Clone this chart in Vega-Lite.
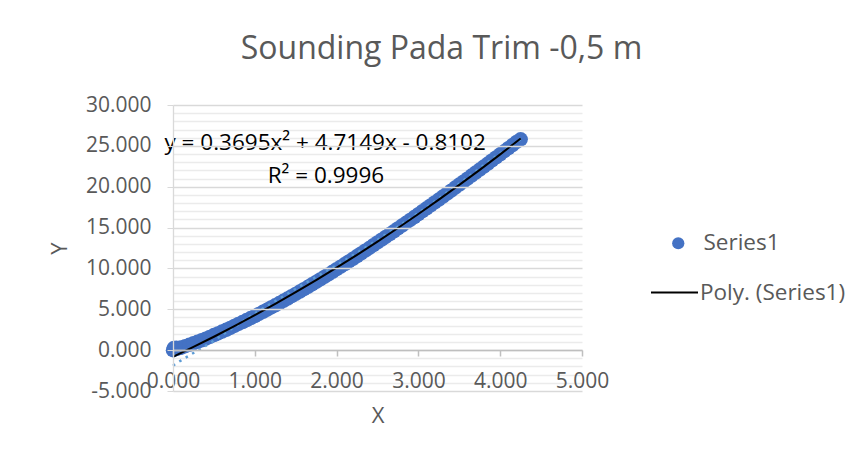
{
  "$schema": "https://vega.github.io/schema/vega-lite/v6.json",
  "width": 409,
  "height": 286,
  "autosize": "none",
  "padding": {"left": 173, "top": 105, "right": 278, "bottom": 66},
  "background": "white",
  "config": {
    "view": {"stroke": null},
    "font": "Open Sans",
    "locale": {"number": {"decimal": ".", "thousands": ",", "grouping": [3], "currency": ["$", ""], "minus": "-"}},
    "axis": {"labelFont": "Open Sans", "titleFont": "Open Sans", "labelColor": "#595959", "titleColor": "#595959", "labelFontSize": 21, "titleFontSize": 22, "titleFontWeight": "normal"}
  },
  "title": {
    "text": "Sounding Pada Trim -0,5 m",
    "font": "Open Sans",
    "fontSize": 32,
    "fontWeight": "normal",
    "color": "#595959",
    "anchor": "middle",
    "frame": "group",
    "dx": 64,
    "offset": 28
  },
  "data": {
    "values": [
      {"series": "Series1", "x": 0.0, "y": 0.0},
      {"series": "Series1", "x": 0.01, "y": 0.25},
      {"series": "Series1", "x": 0.02, "y": 0.08},
      {"series": "Series1", "x": 0.04, "y": 0.3},
      {"series": "Series1", "x": 0.05, "y": 0.18},
      {"series": "Series1", "x": 0.08, "y": 0.26},
      {"series": "Series1", "x": 0.1, "y": 0.32},
      {"series": "Series1", "x": 0.15, "y": 0.48},
      {"series": "Series1", "x": 0.2, "y": 0.65},
      {"series": "Series1", "x": 0.25, "y": 0.83},
      {"series": "Series1", "x": 0.3, "y": 1.02},
      {"series": "Series1", "x": 0.35, "y": 1.21},
      {"series": "Series1", "x": 0.4, "y": 1.41},
      {"series": "Series1", "x": 0.45, "y": 1.62},
      {"series": "Series1", "x": 0.5, "y": 1.84},
      {"series": "Series1", "x": 0.55, "y": 2.05},
      {"series": "Series1", "x": 0.6, "y": 2.27},
      {"series": "Series1", "x": 0.65, "y": 2.49},
      {"series": "Series1", "x": 0.7, "y": 2.72},
      {"series": "Series1", "x": 0.75, "y": 2.96},
      {"series": "Series1", "x": 0.8, "y": 3.2},
      {"series": "Series1", "x": 0.85, "y": 3.44},
      {"series": "Series1", "x": 0.9, "y": 3.68},
      {"series": "Series1", "x": 0.95, "y": 3.92},
      {"series": "Series1", "x": 1.0, "y": 4.17},
      {"series": "Series1", "x": 1.05, "y": 4.43},
      {"series": "Series1", "x": 1.1, "y": 4.69},
      {"series": "Series1", "x": 1.15, "y": 4.95},
      {"series": "Series1", "x": 1.2, "y": 5.22},
      {"series": "Series1", "x": 1.25, "y": 5.49},
      {"series": "Series1", "x": 1.3, "y": 5.76},
      {"series": "Series1", "x": 1.35, "y": 6.03},
      {"series": "Series1", "x": 1.4, "y": 6.31},
      {"series": "Series1", "x": 1.45, "y": 6.6},
      {"series": "Series1", "x": 1.5, "y": 6.88},
      {"series": "Series1", "x": 1.55, "y": 7.17},
      {"series": "Series1", "x": 1.6, "y": 7.46},
      {"series": "Series1", "x": 1.65, "y": 7.75},
      {"series": "Series1", "x": 1.7, "y": 8.05},
      {"series": "Series1", "x": 1.75, "y": 8.35},
      {"series": "Series1", "x": 1.8, "y": 8.65},
      {"series": "Series1", "x": 1.85, "y": 8.96},
      {"series": "Series1", "x": 1.9, "y": 9.27},
      {"series": "Series1", "x": 1.95, "y": 9.58},
      {"series": "Series1", "x": 2.0, "y": 9.9},
      {"series": "Series1", "x": 2.05, "y": 10.21},
      {"series": "Series1", "x": 2.1, "y": 10.53},
      {"series": "Series1", "x": 2.15, "y": 10.86},
      {"series": "Series1", "x": 2.2, "y": 11.18},
      {"series": "Series1", "x": 2.25, "y": 11.51},
      {"series": "Series1", "x": 2.3, "y": 11.84},
      {"series": "Series1", "x": 2.35, "y": 12.17},
      {"series": "Series1", "x": 2.4, "y": 12.5},
      {"series": "Series1", "x": 2.45, "y": 12.84},
      {"series": "Series1", "x": 2.5, "y": 13.18},
      {"series": "Series1", "x": 2.55, "y": 13.52},
      {"series": "Series1", "x": 2.6, "y": 13.86},
      {"series": "Series1", "x": 2.65, "y": 14.2},
      {"series": "Series1", "x": 2.7, "y": 14.54},
      {"series": "Series1", "x": 2.75, "y": 14.89},
      {"series": "Series1", "x": 2.8, "y": 15.24},
      {"series": "Series1", "x": 2.85, "y": 15.59},
      {"series": "Series1", "x": 2.9, "y": 15.94},
      {"series": "Series1", "x": 2.95, "y": 16.29},
      {"series": "Series1", "x": 3.0, "y": 16.64},
      {"series": "Series1", "x": 3.05, "y": 17.0},
      {"series": "Series1", "x": 3.1, "y": 17.36},
      {"series": "Series1", "x": 3.15, "y": 17.71},
      {"series": "Series1", "x": 3.2, "y": 18.07},
      {"series": "Series1", "x": 3.25, "y": 18.43},
      {"series": "Series1", "x": 3.3, "y": 18.79},
      {"series": "Series1", "x": 3.35, "y": 19.15},
      {"series": "Series1", "x": 3.4, "y": 19.52},
      {"series": "Series1", "x": 3.45, "y": 19.89},
      {"series": "Series1", "x": 3.5, "y": 20.26},
      {"series": "Series1", "x": 3.55, "y": 20.62},
      {"series": "Series1", "x": 3.6, "y": 20.99},
      {"series": "Series1", "x": 3.65, "y": 21.36},
      {"series": "Series1", "x": 3.7, "y": 21.73},
      {"series": "Series1", "x": 3.75, "y": 22.1},
      {"series": "Series1", "x": 3.8, "y": 22.47},
      {"series": "Series1", "x": 3.85, "y": 22.84},
      {"series": "Series1", "x": 3.9, "y": 23.22},
      {"series": "Series1", "x": 3.95, "y": 23.59},
      {"series": "Series1", "x": 4.0, "y": 23.97},
      {"series": "Series1", "x": 4.05, "y": 24.34},
      {"series": "Series1", "x": 4.1, "y": 24.72},
      {"series": "Series1", "x": 4.15, "y": 25.1},
      {"series": "Series1", "x": 4.2, "y": 25.48},
      {"series": "Series1", "x": 4.25, "y": 25.8},
      {"series": "dots", "x": 0.0, "y": -1.9},
      {"series": "dots", "x": 0.1, "y": -1.25},
      {"series": "dots", "x": 0.25, "y": -0.35},
      {"series": "dots", "x": 0.45, "y": 0.85},
      {"series": "dots", "x": 0.7, "y": 2.5},
      {"series": "dots", "x": 1.0, "y": 4.5},
      {"series": "dots", "x": 1.3, "y": 6.3},
      {"series": "dots", "x": 1.6, "y": 8.1},
      {"series": "dots", "x": 2.0, "y": 10.4},
      {"series": "dots", "x": 2.5, "y": 13.5},
      {"series": "dots", "x": 3.0, "y": 16.8},
      {"series": "dots", "x": 3.5, "y": 20.4},
      {"series": "dots", "x": 4.0, "y": 24.1},
      {"series": "dots", "x": 4.25, "y": 25.8},
      {"series": "Poly. (Series1)", "x": 0.0, "y": -0.8102},
      {"series": "Poly. (Series1)", "x": 0.25, "y": 0.3916},
      {"series": "Poly. (Series1)", "x": 0.5, "y": 1.6396},
      {"series": "Poly. (Series1)", "x": 0.75, "y": 2.9338},
      {"series": "Poly. (Series1)", "x": 1.0, "y": 4.2742},
      {"series": "Poly. (Series1)", "x": 1.25, "y": 5.6608},
      {"series": "Poly. (Series1)", "x": 1.5, "y": 7.0935},
      {"series": "Poly. (Series1)", "x": 1.75, "y": 8.5725},
      {"series": "Poly. (Series1)", "x": 2.0, "y": 10.0976},
      {"series": "Poly. (Series1)", "x": 2.25, "y": 11.6689},
      {"series": "Poly. (Series1)", "x": 2.5, "y": 13.2864},
      {"series": "Poly. (Series1)", "x": 2.75, "y": 14.9501},
      {"series": "Poly. (Series1)", "x": 3.0, "y": 16.66},
      {"series": "Poly. (Series1)", "x": 3.25, "y": 18.4161},
      {"series": "Poly. (Series1)", "x": 3.5, "y": 20.2183},
      {"series": "Poly. (Series1)", "x": 3.75, "y": 22.0668},
      {"series": "Poly. (Series1)", "x": 4.0, "y": 23.9614},
      {"series": "Poly. (Series1)", "x": 4.25, "y": 25.9019}
    ]
  },
  "resolve": {"axis": {"y": "independent", "x": "independent"}},
  "layer": [
    {
      "data": {"values": [{}]},
      "mark": {"type": "rule", "opacity": 0},
      "encoding": {
        "y": {"datum": 0, "type": "quantitative", "scale": {"domain": [-5, 30], "nice": false},
          "axis": {"orient": "left", "values": [-4,-3,-2,-1,1,2,3,4,6,7,8,9,11,12,13,14,16,17,18,19,21,22,23,24,26,27,28,29], "labels": false, "ticks": false, "domain": false, "title": null, "grid": true, "gridColor": "#EBEBEB", "gridWidth": 1.3, "zindex": 0}}
      }
    },
    {
      "transform": [{"filter": "datum.series == 'Series1'"}],
      "mark": {"type": "point", "filled": true, "size": 210, "opacity": 1},
      "encoding": {
        "x": {"field": "x", "type": "quantitative", "scale": {"domain": [0, 5], "nice": false},
          "axis": {"values": [0,1,2,3,4,5], "format": ".3f", "offset": -41, "grid": false, "domainColor": "#BFBFBF", "domainWidth": 1.5, "tickColor": "#BFBFBF", "tickSize": 6, "tickWidth": 1.5, "labelPadding": 14, "title": "X", "titlePadding": 14, "labelFlush": false, "zindex": 1}},
        "y": {"field": "y", "type": "quantitative", "scale": {"domain": [-5, 30], "nice": false},
          "axis": {"orient": "left", "values": [-5,0,5,10,15,20,25,30], "format": ",.3f", "grid": true, "gridColor": "#D9D9D9", "gridWidth": 1.3, "domainColor": "#D9D9D9", "domainWidth": 1.3, "tickColor": "#D9D9D9", "tickSize": 6, "labelPadding": 16, "title": "Y", "titlePadding": 14, "labelFlush": false, "zindex": 1}},
        "fill": {"field": "series", "type": "nominal", "scale": {"domain": ["Series1"], "range": ["#4472C4"]},
          "legend": {"title": null, "orient": "none", "legendX": 494, "legendY": 127, "symbolType": "circle", "symbolSize": 150, "labelFontSize": 22.5, "labelFont": "Open Sans", "labelColor": "#595959", "labelOffset": 14, "padding": 0}}
      }
    },
    {
      "transform": [{"filter": "datum.series == 'dots'"}],
      "mark": {"type": "line", "color": "#5B9BD5", "strokeWidth": 2.5, "strokeDash": [2.5, 5], "interpolate": "monotone"},
      "encoding": {
        "x": {"field": "x", "type": "quantitative", "axis": null},
        "y": {"field": "y", "type": "quantitative", "axis": null}
      }
    },
    {
      "transform": [{"filter": "datum.series == 'Poly. (Series1)'"}],
      "mark": {"type": "line", "strokeWidth": 2, "interpolate": "monotone"},
      "encoding": {
        "x": {"field": "x", "type": "quantitative", "axis": null},
        "y": {"field": "y", "type": "quantitative", "axis": null},
        "stroke": {"field": "series", "type": "nominal", "scale": {"domain": ["Poly. (Series1)"], "range": ["black"]},
          "legend": {"title": null, "orient": "none", "legendX": 477, "legendY": 163, "symbolType": "stroke", "symbolSize": 2209, "symbolStrokeWidth": 2, "labelFontSize": 22.5, "labelFont": "Open Sans", "labelColor": "#595959", "labelOffset": 1, "padding": 0}}
      }
    },
    {
      "data": {"values": [{}]},
      "mark": {"type": "text", "fontSize": 22.5, "font": "Open Sans", "color": "black", "align": "center", "baseline": "middle"},
      "encoding": {
        "x": {"datum": 1.86, "type": "quantitative", "axis": null},
        "y": {"datum": 25.3, "type": "quantitative", "axis": null},
        "text": {"value": "y = 0.3695x² + 4.7149x - 0.8102"}
      }
    },
    {
      "data": {"values": [{}]},
      "mark": {"type": "text", "fontSize": 22.5, "font": "Open Sans", "color": "black", "align": "center", "baseline": "middle"},
      "encoding": {
        "x": {"datum": 1.87, "type": "quantitative", "axis": null},
        "y": {"datum": 21.3, "type": "quantitative", "axis": null},
        "text": {"value": "R² = 0.9996"}
      }
    }
  ]
}
